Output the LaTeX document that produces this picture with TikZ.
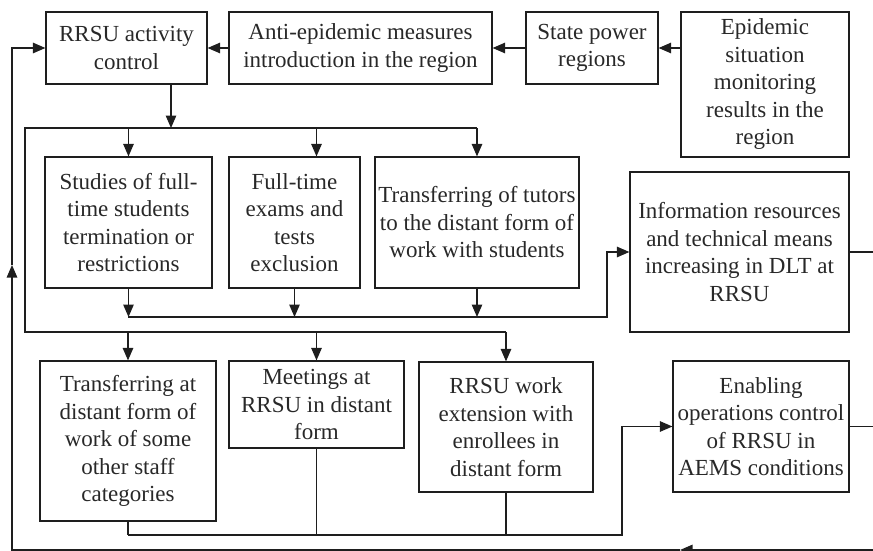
\documentclass[tikz,border=0pt]{standalone}
\usepackage{fontspec}
\setmainfont{Liberation Serif}
\usetikzlibrary{arrows.meta,calc}
\definecolor{ink}{RGB}{30,30,30}
\definecolor{txt}{RGB}{40,40,40}
\tikzset{
  box/.style={draw=ink, line width=1.2pt, align=center, inner sep=1pt, text=txt,
    font=\fontsize{23}{27.5}\selectfont},
  conn/.style={draw=ink, line width=1.2pt},
  arr/.style={conn, -{Triangle[length=12.5pt,width=10.5pt]}},
}
\begin{document}
\begin{tikzpicture}[x=1pt,y=-1pt]
\useasboundingbox (0,0) rectangle (873,551);
% boxes
\node[box, minimum width=161pt, minimum height=72pt] (b1) at (126.5,48) {RRSU activity\\control};
\node[box, minimum width=263pt, minimum height=72pt] (b2) at (360.5,48) {Anti-epidemic measures\\introduction in the region};
\node[box, minimum width=132pt, minimum height=72pt] (b3) at (592,48) {State power\\regions};
\node[box, minimum width=168pt, minimum height=145pt] (b4) at (765,84.5) {Epidemic\\situation\\monitoring\\results in the\\region};
\node[box, minimum width=167pt, minimum height=131pt] (b5) at (128.5,222.5) {Studies of full-\\time students\\termination or\\restrictions};
\node[box, minimum width=131pt, minimum height=131pt] (b6) at (294.5,222.5) {Full-time\\exams and\\tests\\exclusion};
\node[box, minimum width=204pt, minimum height=131pt] (b7) at (477,222.5) {Transferring of tutors\\to the distant form of\\work with students};
\node[box, minimum width=219pt, minimum height=160pt] (b8) at (739.5,252) {Information resources\\and technical means\\increasing in DLT at\\RRSU};
\node[box, minimum width=176pt, minimum height=160pt] (b9) at (128,441) {Transferring at\\distant form of\\work of some\\other staff\\categories};
\node[box, minimum width=175pt, minimum height=87pt] (b10) at (316.5,404.5) {Meetings at\\RRSU in distant\\form};
\node[box, minimum width=174pt, minimum height=130pt] (b11) at (506,427) {RRSU work\\extension with\\enrollees in\\distant form};
\node[box, minimum width=176pt, minimum height=131pt] (b12) at (761,426.5) {Enabling\\operations control\\of RRSU in\\AEMS conditions};
% helper coordinates
\coordinate (busA) at (25,128);
\coordinate (busB) at (25,332);
\coordinate (busC) at (128,317);
\coordinate (busD) at (128,535);
\coordinate (j1) at (171,128);
\coordinate (k1) at (607,317);
\coordinate (k2) at (622,535);
\coordinate (rEdge) at (873,550);
\coordinate (m1) at (680,550);
\coordinate (fb) at (12,550);
\coordinate (m2) at (12,265);
% top chain
\draw[arr] (b4.west |- b3.east) -- (b3.east);
\draw[arr] (b3.west) -- (b2.east);
\draw[arr] (b2.west) -- (b1.east);
\draw[arr] (j1 |- b1.south) -- (j1);
% top bus
\draw[conn] (b7.north |- busA) -- (busA) -- (busB) -- (b11.north |- busB);
\draw[arr] (b5.north |- busA) -- (b5.north);
\draw[arr] (b10.north |- busA) -- (b10.north |- b6.north);
\draw[arr] (b7.north |- busA) -- (b7.north);
% collector of row 2
\draw[arr] (b5.south) -- (b5.south |- busC);
\draw[arr] (b6.south) -- (b6.south |- busC);
\draw[arr] (b7.south) -- (b7.south |- busC);
\draw[arr] (busC) -- (k1) |- (b8.west);
% row 3 arrows
\draw[arr] (b9.north |- busB) -- (b9.north);
\draw[arr] (b10.north |- busB) -- (b10.north);
\draw[arr] (b11.north |- busB) -- (b11.north);
% collector of row 3
\draw[conn] (b9.south) -- (b9.south |- busD);
\draw[conn] (b10.south) -- (b10.south |- busD);
\draw[conn] (b11.south) -- (b11.south |- busD);
\draw[arr] (busD) -- (k2) |- (b12.west);
% right outputs
\draw[conn] (b8.east) -- (b8.east -| rEdge);
\draw[conn] (b12.east) -- (b12.east -| rEdge);
% feedback loop
\draw[arr] (rEdge) -- (m1);
\draw[arr] (m1) -- (fb) -- (m2);
\draw[arr] (m2) -- (fb |- b1.west) -- (b1.west);
\end{tikzpicture}
\end{document}
